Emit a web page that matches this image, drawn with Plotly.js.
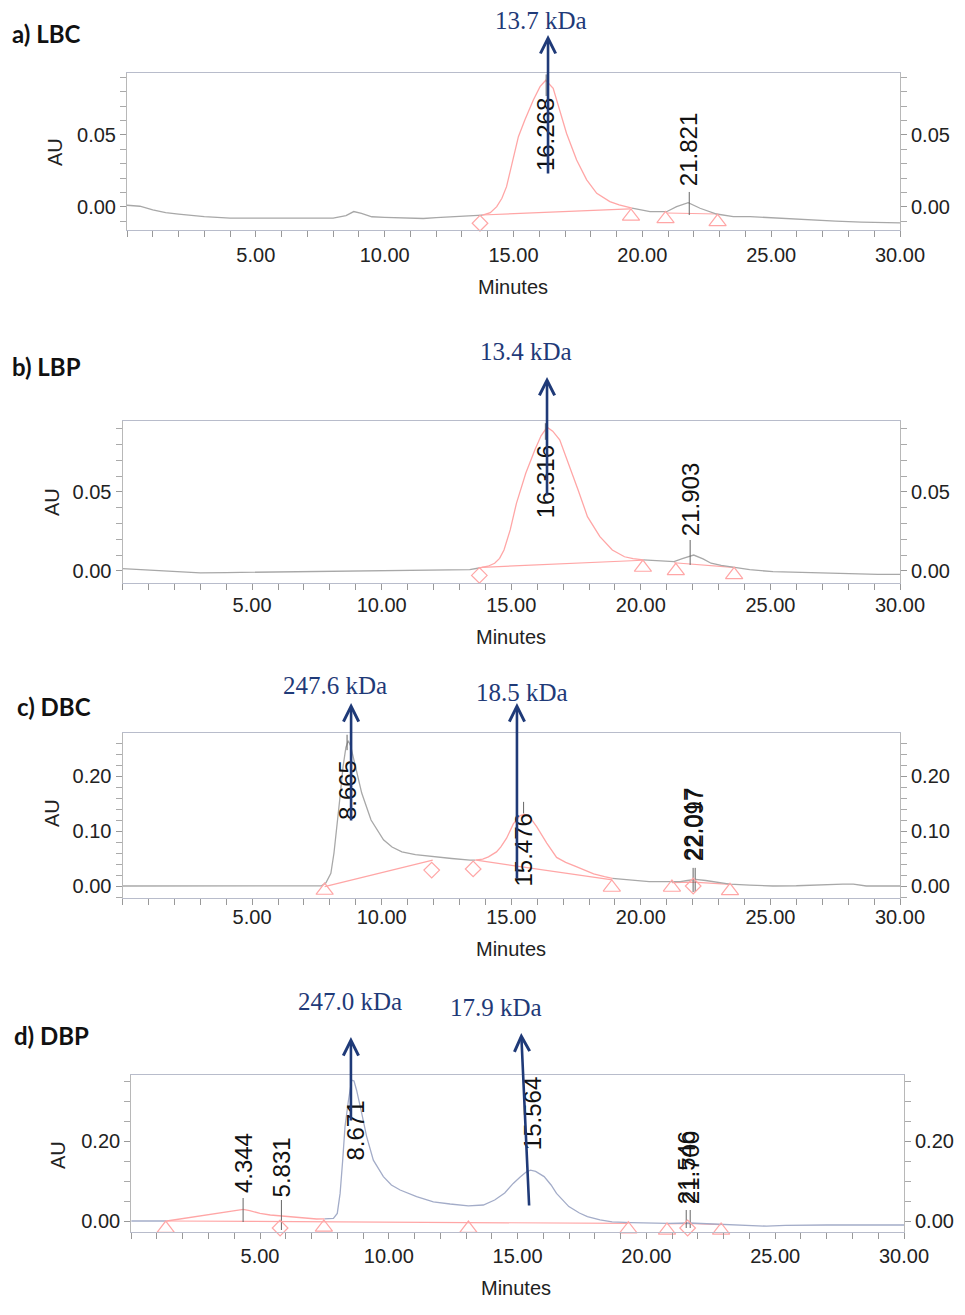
<!DOCTYPE html>
<html><head><meta charset="utf-8">
<script src="https://cdn.plot.ly/plotly-3.0.1.min.js"></script>
<style>html,body{margin:0;padding:0;background:#fff}</style>
</head><body><div id="chart" style="width:965px;height:1315px"></div>
<script>
// ---------------- DATA ----------------
const xTickVals = [5, 10, 15, 20, 25, 30];
const xTickText = ['5.00', '10.00', '15.00', '20.00', '25.00', '30.00'];

// a) LBC
const aGray1X = [0,0.5,1,1.5,2,3,4,5,6,7,8,8.5,8.8,9.1,9.5,10,11,11.5,12,13,13.8];
const aGray1Y = [0.0012,0.0005,-0.002,-0.004,-0.005,-0.0067,-0.0078,-0.0077,-0.0075,-0.0076,-0.0078,-0.006,-0.0032,-0.0045,-0.0068,-0.0072,-0.0076,-0.008,-0.0074,-0.0066,-0.0057];
const aPeakX = [13.8,14.1,14.35,14.55,14.73,14.99,15.19,15.44,15.77,16.03,16.25,16.54,16.8,17.06,17.45,17.84,18.23,18.74,19.1,19.39,19.6];
const aPeakY = [-0.0057,-0.004,0.0002,0.006,0.0141,0.0326,0.0488,0.0604,0.0743,0.0835,0.088,0.0824,0.067,0.051,0.0326,0.0188,0.0095,0.0037,0.0015,0.0002,-0.0008];
const aGray2X = [19.6,20.0,20.3,20.94,21.33,21.78,22.24,22.88,23.53,24.18,25.1,26.3,27.5,28.5,30];
const aGray2Y = [-0.0008,-0.0022,-0.0033,-0.0033,0.0002,0.003,-0.0009,-0.0049,-0.0067,-0.0067,-0.0076,-0.009,-0.0098,-0.0105,-0.011];
const aBaseX = [[13.76,19.52],[20.95,22.9]];
const aBaseY = [[-0.0056,-0.0014],[-0.0042,-0.0049]];
const aDiaX = [13.7], aDiaY = [-0.0113];
const aTriX = [19.56,20.9,22.92], aTriY = [-0.0066,-0.0083,-0.0103];
const aPeakRT = ['16.268','21.821'];
const aPeakTopY = [0.092,0.0104], aPeakBotY = [0.077,-0.0056];
const aKDa = ['13.7 kDa'];
const aArrowX = [16.34];

// b) LBP
const bGray1X = [0,0.5,1,2,2.4,3,4,5,6,7,8,9,9.6,10,11,12,13,13.4,13.76];
const bGray1Y = [0.0015,0.001,0.0005,-0.0005,-0.001,-0.0012,-0.001,-0.0008,-0.0005,-0.0003,0,0.0002,0.0,0.0002,0.0004,0.0006,0.0008,0.0008,0.0019];
const bPeakX = [13.76,14.1,14.36,14.55,14.72,14.96,15.2,15.56,15.91,16.15,16.38,16.6,16.87,17.22,17.58,17.94,18.42,18.9,19.37,19.7,20.09];
const bPeakY = [0.0019,0.003,0.0049,0.008,0.0133,0.026,0.0428,0.0618,0.0766,0.0855,0.091,0.0885,0.083,0.068,0.0513,0.0344,0.0217,0.0133,0.009,0.0078,0.007];
const bGray2X = [20.09,20.56,21.0,21.28,21.6,22.04,22.4,22.71,23.1,23.55,24.2,25.1,26.3,27.49,28.3,29.15,30];
const bGray2Y = [0.007,0.0065,0.006,0.0059,0.0078,0.0101,0.0077,0.0049,0.0035,0.0023,0.0008,-0.0004,-0.001,-0.0015,-0.0018,-0.0021,-0.0021];
const bBaseX = [[13.87,20.08],[21.28,23.55]];
const bBaseY = [[0.0023,0.0068],[0.0052,0.0023]];
const bDiaX = [13.77], bDiaY = [-0.0028];
const bTriX = [20.08,21.35,23.6], bTriY = [0.0022,0.0001,-0.0024];
const bPeakRT = ['16.316','21.903'];
const bPeakTopY = [0.0935,0.0196], bPeakBotY = [0.083,0.0038];
const bKDa = ['13.4 kDa'];
const bArrowX = [16.38];

// c) DBC
const cGray1X = [0,2,4,6,7,7.5,7.68,7.85,8.04,8.16,8.28,8.4,8.51,8.62,8.71,8.8,8.99,9.23,9.59,10.07,10.4,10.78,11.3,11.97,12.7,13.41,13.6];
const cGray1Y = [0,0,0,0,0,0,0.0005,0.006,0.023,0.06,0.108,0.165,0.217,0.252,0.264,0.255,0.217,0.169,0.12,0.084,0.071,0.062,0.057,0.053,0.05,0.047,0.047];
const cPeakX = [13.6,13.9,14.12,14.43,14.6,14.82,15.08,15.34,15.5,15.66,15.98,16.2,16.37,16.75,17.1,17.46,17.8,18.18,18.6,18.9];
const cPeakY = [0.047,0.049,0.053,0.062,0.071,0.087,0.113,0.128,0.13,0.129,0.108,0.09,0.078,0.052,0.043,0.036,0.029,0.022,0.017,0.014];
const cGray2X = [18.9,19.5,20.32,21.0,21.52,21.8,22.11,22.5,23.0,23.43,24.2,25.1,26.0,26.8,27.25,27.8,28.2,28.7,29.3,30];
const cGray2Y = [0.014,0.011,0.0078,0.0078,0.0078,0.010,0.012,0.010,0.007,0.0036,0.0015,0.0,0.0005,0.002,0.0036,0.0036,0.0036,0.0,0.0,0.0];
const cBaseX = [[7.8,11.97],[13.65,18.9],[21.2,22.02,23.44]];
const cBaseY = [[-0.001,0.047],[0.047,0.011],[0.006,0.007,0.003]];
const cDiaX = [11.93,13.53,22.02], cDiaY = [0.029,0.031,0.0];
const cTriX = [7.8,18.88,21.2,23.44], cTriY = [-0.0082,-0.0027,-0.0027,-0.0087];
const cPeakRT = ['8.665','15.476','22.097','22.017'];
const cPeakTopY = [0.275,0.153,0.033,0.033], cPeakBotY = [0.247,0.132,-0.011,-0.011];
const cKDa = ['247.6 kDa','18.5 kDa'];
const cArrowX = [8.82,15.22];

// d) DBP
const dGray1X = [0,0.7,1.38];
const dGray1Y = [0.0,0.0,0.0];
const dPinkX = [1.38,2.0,2.67,3.2,3.71,4.1,4.35,4.6,5.0,5.4,5.84,6.2,6.56,7.2,7.5];
const dPinkY = [0.0,0.006,0.0125,0.018,0.023,0.027,0.029,0.026,0.019,0.015,0.0125,0.011,0.009,0.005,0.0055];
const dGray2X = [7.5,7.85,8.0,8.11,8.21,8.3,8.43,8.56,8.65,8.75,8.95,9.14,9.4,9.79,10.1,10.44,11.08,11.73,12.38,13.09,13.67,14.11,14.5,14.83,15.1,15.32,15.5,15.7,16.03,16.3,16.51,16.99,17.4,17.71,18.2,18.67,19.39,20.1,20.83,21.67,22.4,23.24,24.0,24.67,25.4,26.12,27,28,29,30];
const dGray2Y = [0.0055,0.0067,0.019,0.069,0.152,0.236,0.30,0.352,0.35,0.327,0.269,0.211,0.152,0.111,0.09,0.0775,0.061,0.048,0.0425,0.038,0.040,0.0525,0.07,0.094,0.11,0.122,0.127,0.124,0.111,0.09,0.069,0.036,0.02,0.011,0.003,-0.002,-0.004,-0.005,-0.006,-0.005,-0.007,-0.008,-0.01,-0.013,-0.011,-0.01,-0.01,-0.01,-0.01,-0.01];
const dBaseX = [[1.38,19.3],[20.8,21.6,22.9]];
const dBaseY = [[0.0,-0.006],[-0.007,-0.006,-0.009]];
const dDiaX = [5.78,21.6], dDiaY = [-0.0175,-0.0175];
const dTriX = [1.34,7.48,13.09,19.3,20.8,22.9], dTriY = [-0.019,-0.016,-0.019,-0.0205,-0.0235,-0.0235];
const dPeakRT = ['4.344','5.831','8.671','15.564','21.546','21.700'];
const dPeakTopY = [0.0575,0.0525,null,null,0.0275,0.0275], dPeakBotY = [-0.0025,-0.0225,null,null,-0.0175,-0.0175];
const dKDa = ['247.0 kDa','17.9 kDa'];
const dArrowX = [8.53,15.14];

// ---------------- LAYOUT CONFIG ----------------
const W = 965, H = 1315;
const GRAY = '#a8a8a8', PINK = '#ffa6a6', NAVY = '#1f3a78', DBLUE = '#a3acc8';
const TICKF = {family:'Liberation Sans, Arial, sans-serif', size:20, color:'#222'};
const py2p = py => 1 - py / H;
const px2p = px => px / W;

const panels = [
  {id:'', rid:'5', xl:127, xr:900, yt:73, yb:230, range:[-0.016,0.093], yt_vals:[0,0.05], yt_text:['0.00','0.05'], minor:0.01, so:1,
   title:'a) LBC', tpx:10, tpy:34, au:[55,152], minutes:[513,287],
   gray:[[aGray1X,aGray1Y],[aGray2X,aGray2Y]], pink:[[aPeakX,aPeakY]], base:[aBaseX,aBaseY], dia:[aDiaX,aDiaY], tri:[aTriX,aTriY],
   rt:aPeakRT, rtTop:aPeakTopY, rtBot:aPeakBotY, labY:[0.05,0.0396],
   kda:aKDa, kdaPos:[[541,20]], arrX:aArrowX, arrTip:[0.1194], arrTailX:[16.34], arrTail:[0.0222]},
  {id:'2', rid:'6', xl:122.5, xr:900, yt:421, yb:583, range:[-0.0076,0.0949], yt_vals:[0,0.05], yt_text:['0.00','0.05'], minor:0.01, so:-2,
   title:'b) LBP', tpx:10, tpy:367, au:[52,502], minutes:[511,637],
   gray:[[bGray1X,bGray1Y],[bGray2X,bGray2Y]], pink:[[bPeakX,bPeakY]], base:[bBaseX,bBaseY], dia:[bDiaX,bDiaY], tri:[bTriX,bTriY],
   rt:bPeakRT, rtTop:bPeakTopY, rtBot:bPeakBotY, labY:[0.0563,0.0449],
   kda:bKDa, kdaPos:[[526,352]], arrX:bArrowX, arrTip:[0.1228], arrTailX:[16.38], arrTail:[0.0468]},
  {id:'3', rid:'7', xl:122.5, xr:900, yt:733, yb:898, range:[-0.0218,0.2782], yt_vals:[0,0.1,0.2], yt_text:['0.00','0.10','0.20'], minor:0.02, so:-5,
   title:'c) DBC', tpx:15, tpy:706, au:[52,813], minutes:[511,949],
   gray:[[cGray1X,cGray1Y],[cGray2X,cGray2Y]], pink:[[cPeakX,cPeakY]], base:[cBaseX,cBaseY], dia:[cDiaX,cDiaY], tri:[cTriX,cTriY],
   rt:cPeakRT, rtTop:cPeakTopY, rtBot:cPeakBotY, labY:[0.1745,0.0655,0.111,0.111],
   kda:cKDa, kdaPos:[[335,685],[522,692]], arrX:cArrowX, arrTip:[0.3327,0.3327], arrTailX:[8.82,15.22], arrTail:[0.1164,0.0109]},
  {id:'4', rid:'8', xl:131.2, xr:904, yt:1075, yb:1232, range:[-0.0275,0.365], yt_vals:[0,0.2], yt_text:['0.00','0.20'], minor:0.05, so:0,
   title:'d) DBP', tpx:12, tpy:1035, au:[58,1155], minutes:[516,1288], lineColor:DBLUE,
   gray:[[dGray1X,dGray1Y],[dGray2X,dGray2Y]], pink:[[dPinkX,dPinkY]], base:[dBaseX,dBaseY], dia:[dDiaX,dDiaY], tri:[dTriX,dTriY],
   rt:dPeakRT, rtTop:dPeakTopY, rtBot:dPeakBotY, labY:[0.145,0.135,0.225,0.2675,0.1325,0.1325],
   kda:dKDa, kdaPos:[[350,1001],[496,1007]], arrX:dArrowX, arrTip:[0.46,0.47], arrTailX:[8.53,15.45], arrTail:[0.2475,0.035]}
];

const traces = [];
const layout = {width:W, height:H, margin:{l:0,r:0,t:0,b:0}, paper_bgcolor:'#fff', plot_bgcolor:'#fff',
  showlegend:false, annotations:[], shapes:[]};

function lineTrace(x, y, color, xa, ya, w) {
  return {x, y, type:'scatter', mode:'lines', line:{color, width:w||1.2}, xaxis:xa, yaxis:ya, hoverinfo:'skip', showlegend:false};
}

panels.forEach(p => {
  const xa = 'x' + p.id, ya = 'y' + p.id, yr = 'y' + p.rid;
  const xdom = [px2p(p.xl), px2p(p.xr)], ydom = [py2p(p.yb), py2p(p.yt)];
  const trcol = p.lineColor || GRAY;
  layout['xaxis' + p.id] = {domain:xdom, anchor:ya, range:[0,30], tickmode:'array', tickvals:xTickVals, ticktext:xTickText,
    ticks:'outside', ticklen:6, tickcolor:'#999', showline:true, linecolor:'#b8bccb', mirror:true, showgrid:false, zeroline:false,
    minor:{dtick:1, tick0:0, ticks:'outside', ticklen:6, tickcolor:'#999', showgrid:false},
    tickfont:TICKF, ticklabelstandoff:p.so, fixedrange:true};
  const yBase = {domain:ydom, anchor:xa, range:p.range, tickmode:'array', tickvals:p.yt_vals, ticktext:p.yt_text,
    ticks:'outside', ticklen:6, tickcolor:'#999', showline:true, linecolor:'#b8b8b8', showgrid:false, zeroline:false,
    minor:{dtick:p.minor, tick0:0, ticks:'outside', ticklen:6, tickcolor:'#aaa', showgrid:false},
    tickfont:TICKF, fixedrange:true};
  layout['yaxis' + p.id] = Object.assign({}, yBase, {side:'left'});
  layout['yaxis' + p.rid] = Object.assign({}, yBase, {side:'right', overlaying:ya});
  traces.push({x:[15], y:[0], xaxis:xa, yaxis:yr, mode:'markers', marker:{opacity:0}, hoverinfo:'skip', showlegend:false});

  p.base[0].forEach((bx, i) => traces.push(lineTrace(bx, p.base[1][i], PINK, xa, ya, 1.2)));
  p.gray.forEach(g => traces.push(lineTrace(g[0], g[1], trcol, xa, ya, 1.3)));
  p.pink.forEach(g => traces.push(lineTrace(g[0], g[1], PINK, xa, ya, 1.3)));
  p.rt.forEach((t, i) => {
    if (p.rtTop[i] != null) traces.push(lineTrace([+t, +t], [p.rtTop[i], p.rtBot[i]], '#666', xa, ya, 1));
  });
  traces.push({x:p.dia[0], y:p.dia[1], xaxis:xa, yaxis:ya, type:'scatter', mode:'markers', cliponaxis:false,
    marker:{symbol:'diamond-open', size:12, color:PINK, line:{width:1.2, color:PINK}}, hoverinfo:'skip', showlegend:false});
  traces.push({x:p.tri[0], y:p.tri[1], xaxis:xa, yaxis:ya, type:'scatter', mode:'markers', cliponaxis:false,
    marker:{symbol:'triangle-up-open', size:15, color:PINK, line:{width:1.2, color:PINK}}, hoverinfo:'skip', showlegend:false});

  p.rt.forEach((t, i) => layout.annotations.push({text:t, xref:xa, yref:ya, x:+t, y:p.labY[i], textangle:-90,
    showarrow:false, xanchor:'center', yanchor:'middle', font:{family:'Liberation Sans, Arial, sans-serif', size:24, color:'#111'}}));
  p.arrX.forEach((ax, i) => layout.annotations.push({text:'', xref:xa, yref:ya, x:ax, y:p.arrTip[i],
    axref:xa, ayref:ya, ax:p.arrTailX[i], ay:p.arrTail[i], showarrow:true, arrowhead:5, arrowsize:1.15, arrowwidth:2.6,
    arrowcolor:NAVY, standoff:0, startstandoff:0}));
  p.kda.forEach((k, i) => layout.annotations.push({text:k, xref:'paper', yref:'paper', x:px2p(p.kdaPos[i][0]), y:py2p(p.kdaPos[i][1]),
    showarrow:false, xanchor:'center', yanchor:'middle', font:{family:'Liberation Serif, Times New Roman, serif', size:25, color:NAVY}}));
  layout.annotations.push({text:'<b>' + p.title + '</b>', xref:'paper', yref:'paper', x:px2p(p.tpx), y:py2p(p.tpy),
    showarrow:false, xanchor:'left', yanchor:'middle', font:{family:'Lato, Open Sans, sans-serif', size:24, color:'#111'}});
  layout.annotations.push({text:'AU', xref:'paper', yref:'paper', x:px2p(p.au[0]), y:py2p(p.au[1]), textangle:-90,
    showarrow:false, xanchor:'center', yanchor:'middle', font:TICKF});
  layout.annotations.push({text:'Minutes', xref:'paper', yref:'paper', x:px2p(p.minutes[0]), y:py2p(p.minutes[1]),
    showarrow:false, xanchor:'center', yanchor:'middle', font:TICKF});
});

Plotly.newPlot('chart', traces, layout, {staticPlot:true, displayModeBar:false});
</script></body></html>
